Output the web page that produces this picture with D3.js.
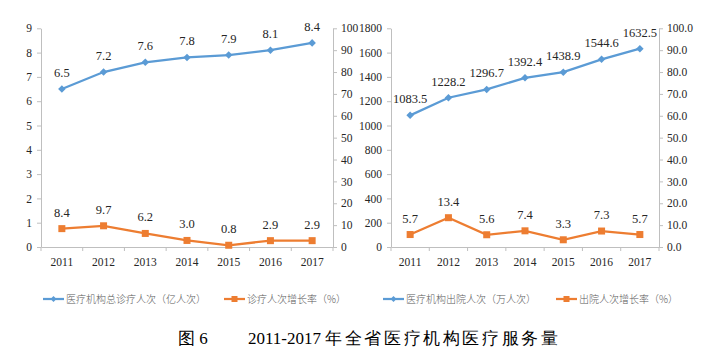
<!DOCTYPE html>
<html><head><meta charset="utf-8">
<script src="https://cdn.jsdelivr.net/npm/d3@7"></script>
<style>
html,body{margin:0;padding:0;background:#fff;}
svg{display:block;}
</style></head>
<body>
<svg id="chart" width="720" height="355"></svg>
<script>
const years = ["2011","2012","2013","2014","2015","2016","2017"];
const visits = [6.5, 7.2, 7.6, 7.8, 7.9, 8.1, 8.4];
const visitGrowth = [8.4, 9.7, 6.2, 3.0, 0.8, 2.9, 2.9];
const discharges = [1083.5, 1228.2, 1296.7, 1392.4, 1438.9, 1544.6, 1632.5];
const dischargeGrowth = [5.7, 13.4, 5.6, 7.4, 3.3, 7.3, 5.7];
const leftTicksA = [0,1,2,3,4,5,6,7,8,9];
const rightTicksA = [0,10,20,30,40,50,60,70,80,90,100];
const leftTicksB = [0,200,400,600,800,1000,1200,1400,1600,1800];
const rightTicksB = [0,10,20,30,40,50,60,70,80,90,100];
const legendLabels = ["医疗机构总诊疗人次（亿人次）","诊疗人次增长率（%）","医疗机构出院人次（万人次）","出院人次增长率（%）"];
const titleNum = "图 6";
const titleYears = "2011-2017";
const titleText = "年全省医疗机构医疗服务量";

const BLUE = "#5B9BD5", ORANGE = "#ED7D31", AXIS = "#BFBFBF", TXT = "#262626";
const FONT = "Liberation Serif, Tinos, Times New Roman, serif";
const svg = d3.select("#chart");

function panel(cfg){
  const g = svg.append("g");
  const x = d3.scaleBand().domain(years).range([cfg.x0, cfg.x1]).paddingInner(0).paddingOuter(0);
  const yL = d3.scaleLinear().domain([0, cfg.leftMax]).range([cfg.yb, cfg.yt]);
  const yR = d3.scaleLinear().domain([0, 100]).range([cfg.yb, cfg.yt]);
  const cx = d => x(d) + x.bandwidth()/2;

  const la = g.append("g").attr("transform",`translate(${cfg.x0},0)`)
    .call(d3.axisLeft(yL).tickValues(cfg.leftTicks).tickSize(4).tickSizeOuter(0).tickPadding(5).tickFormat(d3.format("d")));
  const ra = g.append("g").attr("transform",`translate(${cfg.x1},0)`)
    .call(d3.axisRight(yR).tickValues(cfg.rightTicks).tickSize(4).tickSizeOuter(0).tickPadding(4).tickFormat(d3.format(cfg.rightFmt)));
  const ba = g.append("g").attr("transform",`translate(0,${cfg.yb})`)
    .call(d3.axisBottom(x).tickSize(0).tickSizeOuter(0).tickPadding(11));
  const bounds = years.map(d => x(d)).concat([cfg.x1]);
  g.append("g").selectAll("line").data(bounds).join("line")
    .attr("x1", d=>d).attr("x2", d=>d).attr("y1", cfg.yb).attr("y2", cfg.yb+4)
    .attr("stroke", AXIS).attr("stroke-width",1);

  [la, ra, ba].forEach(a => {
    a.attr("font-family", FONT).attr("font-size", 11.5);
    a.select(".domain").attr("stroke", AXIS);
    a.selectAll(".tick line").attr("stroke", AXIS);
    a.selectAll("text").attr("fill", TXT);
  });

  const lineL = d3.line().x((d,i)=>cx(years[i])).y(d=>yL(d));
  g.append("path").datum(cfg.main).attr("d", lineL).attr("fill","none")
    .attr("stroke", BLUE).attr("stroke-width", 2.25);
  g.append("g").selectAll("path").data(cfg.main).join("path")
    .attr("d", d3.symbol(d3.symbolDiamond2, 36))
    .attr("transform",(d,i)=>`translate(${cx(years[i])},${yL(d)})`)
    .attr("fill", BLUE);
  g.append("g").attr("font-family", FONT).attr("font-size", 12.5)
    .selectAll("text").data(cfg.main).join("text")
    .attr("x",(d,i)=>cx(years[i])).attr("y", d=>yL(d)-12)
    .attr("text-anchor","middle").attr("fill", TXT)
    .text(d=>d.toFixed(1));

  const lineR = d3.line().x((d,i)=>cx(years[i])).y(d=>yR(d));
  g.append("path").datum(cfg.growth).attr("d", lineR).attr("fill","none")
    .attr("stroke", ORANGE).attr("stroke-width", 2.25);
  g.append("g").selectAll("rect").data(cfg.growth).join("rect")
    .attr("x",(d,i)=>cx(years[i])-3.5).attr("y", d=>yR(d)-3.5)
    .attr("width",7).attr("height",7).attr("fill", ORANGE);
  g.append("g").attr("font-family", FONT).attr("font-size", 12.5)
    .selectAll("text").data(cfg.growth).join("text")
    .attr("x",(d,i)=>cx(years[i])).attr("y", d=>yR(d)-12)
    .attr("text-anchor","middle").attr("fill", TXT)
    .text(d=>d.toFixed(1));
}

panel({x0:41, x1:333, yt:28.3, yb:247, leftMax:9, leftTicks:leftTicksA, rightTicks:rightTicksA, rightFmt:"d", main:visits, growth:visitGrowth});
panel({x0:391, x1:659, yt:28.3, yb:247, leftMax:1800, leftTicks:leftTicksB, rightTicks:rightTicksB, rightFmt:".1f", main:discharges, growth:dischargeGrowth});

const legendItems = [
  {x:43, color:BLUE, shape:"diamond", label:legendLabels[0]},
  {x:224, color:ORANGE, shape:"square", label:legendLabels[1]},
  {x:383, color:BLUE, shape:"diamond", label:legendLabels[2]},
  {x:556, color:ORANGE, shape:"square", label:legendLabels[3]}
];
const lg = svg.append("g");
const ly = 299;
legendItems.forEach(it => {
  const gi = lg.append("g").attr("transform",`translate(${it.x},${ly})`);
  gi.append("line").attr("x1",0).attr("x2",21).attr("y1",0).attr("y2",0)
    .attr("stroke", it.color).attr("stroke-width",2.25);
  if (it.shape === "diamond") {
    gi.append("path").attr("d", d3.symbol(d3.symbolDiamond2, 22)).attr("transform","translate(10.5,0)").attr("fill", it.color);
  } else {
    gi.append("rect").attr("x",7.5).attr("y",-3).attr("width",6).attr("height",6).attr("fill", it.color);
  }
  gi.append("text").attr("x",23).attr("y",3.6).attr("fill","#595959")
    .attr("font-family","Noto Sans CJK SC, sans-serif").attr("font-size",10)
    .attr("font-weight",300)
    .text(it.label);
});

svg.append("text").attr("x",178).attr("y",344).attr("fill","#000")
  .attr("font-family", FONT).attr("font-size",17).text(titleNum);
const tt = svg.append("text").attr("x",248).attr("y",344).attr("fill","#000")
  .attr("font-family", FONT).attr("font-size",17);
tt.append("tspan").text(titleYears + " ");
tt.append("tspan").attr("letter-spacing","2.6px").attr("font-weight",300).text(titleText);
</script>
</body></html>
